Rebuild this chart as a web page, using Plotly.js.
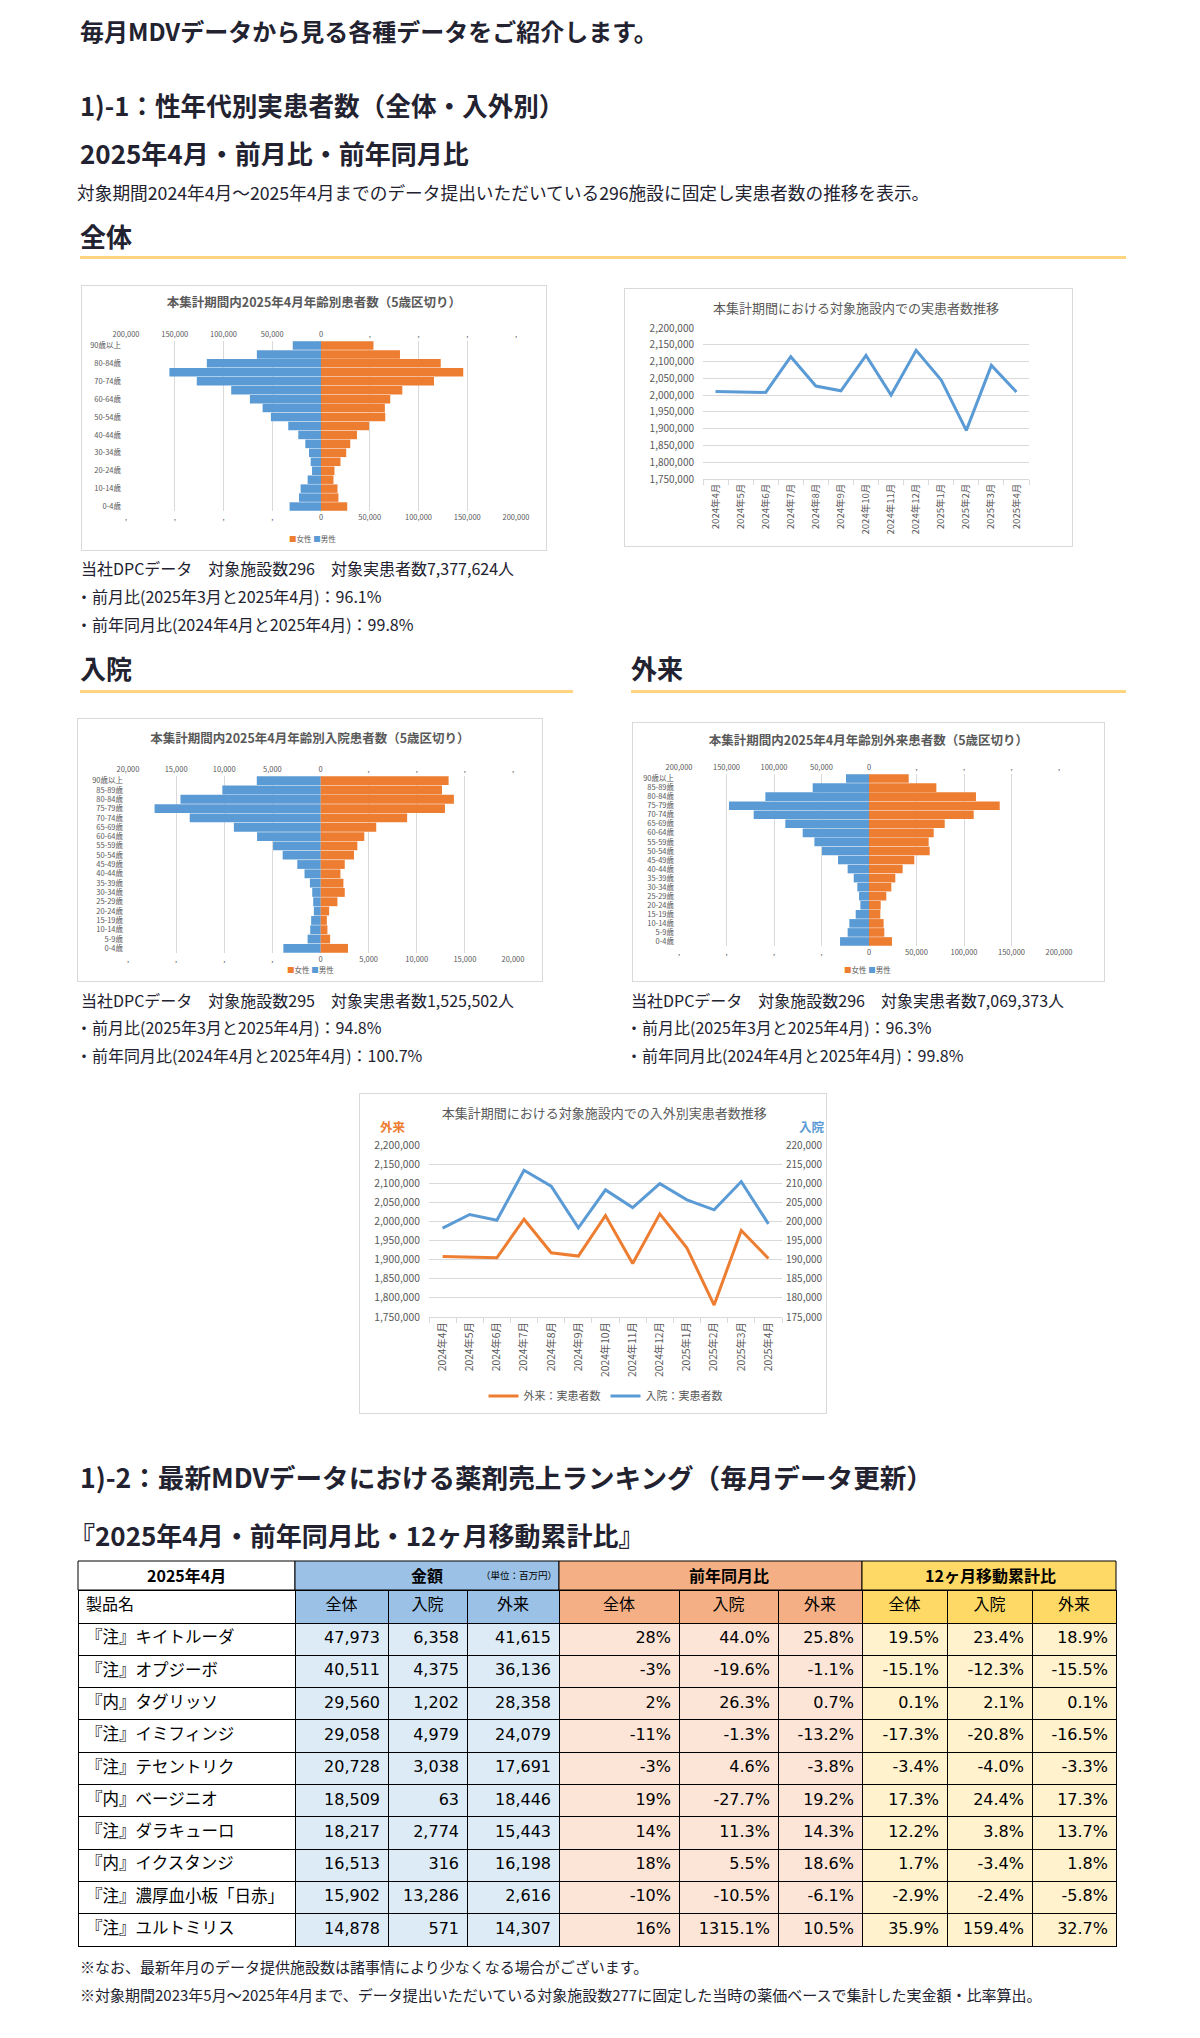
<!DOCTYPE html>
<html><head><meta charset="utf-8">
<script src="https://cdn.plot.ly/plotly-3.0.1.min.js"></script>
<style>
html,body{margin:0;padding:0;background:#fff;}
body{width:1200px;height:2038px;position:relative;overflow:hidden;font-family:"Noto Sans CJK JP","Noto Sans",sans-serif;color:#222230;}
.t{position:absolute;white-space:nowrap;line-height:1;}
.box{position:absolute;border:1px solid #d9d9d9;box-sizing:border-box;background:#fff;overflow:hidden;}
.rule{position:absolute;height:3px;background:#ffd580;}
.plain{position:absolute;}
</style></head><body>
<script>
// ---------------- DATA ----------------
const ages = ['0-4歳','5-9歳','10-14歳','15-19歳','20-24歳','25-29歳','30-34歳','35-39歳','40-44歳','45-49歳','50-54歳','55-59歳','60-64歳','65-69歳','70-74歳','75-79歳','80-84歳','85-89歳','90歳以上'];
const allMale   = [32200,22600,20900,13700,9200,10600,12300,16100,23300,33600,51400,59900,72900,92100,127400,155500,117100,65800,29000];
const allFemale = [26900,17900,16900,12800,13800,20000,25900,30000,36900,49300,65900,65500,71000,83400,115900,145900,122800,81000,53800];
const inMale    = [3860,1340,1070,970,690,760,860,1100,1660,2410,3930,4930,6590,9000,13590,17240,14550,10200,6620];
const inFemale  = [2860,1000,720,660,900,1760,2520,2380,2070,2520,3480,3830,4550,5790,9000,12930,13860,12620,13310];
const outMale   = [30500,22500,20700,14000,9100,10500,12300,16100,22500,32600,49500,57500,69800,88100,121400,147400,109100,59300,24200];
const outFemale = [24200,16100,15400,11900,12300,18200,23500,27700,35400,47700,63900,62800,68100,79700,110200,137600,112600,70900,41800];

const months = ['2024年4月','2024年5月','2024年6月','2024年7月','2024年8月','2024年9月','2024年10月','2024年11月','2024年12月','2025年1月','2025年2月','2025年3月','2025年4月'];
const totalPatients = [2011000,2009000,2008000,2114600,2027000,2013000,2118500,2000300,2133400,2045000,1895000,2088700,2009000];
const outPatients   = [1908400,1906500,1905000,2005900,1918000,1909300,2015500,1890100,2019800,1930200,1781300,1976300,1903100];
const inPatients    = [198240,201810,200330,213380,209210,198330,208250,203640,209900,205640,203030,210430,199370];

const products = ['『注』キイトルーダ','『注』オプジーボ','『内』タグリッソ','『注』イミフィンジ','『注』テセントリク','『内』ベージニオ','『注』ダラキューロ','『内』イクスタンジ','『注』濃厚血小板「日赤」','『注』ユルトミリス'];
const amtTotal = [47973,40511,29560,29058,20728,18509,18217,16513,15902,14878];
const amtIn    = [6358,4375,1202,4979,3038,63,2774,316,13286,571];
const amtOut   = [41615,36136,28358,24079,17691,18446,15443,16198,2616,14307];
const yoyTotal = [28,-3,2,-11,-3,19,14,18,-10,16];
const yoyIn    = [44.0,-19.6,26.3,-1.3,4.6,-27.7,11.3,5.5,-10.5,1315.1];
const yoyOut   = [25.8,-1.1,0.7,-13.2,-3.8,19.2,14.3,18.6,-6.1,10.5];
const matTotal = [19.5,-15.1,0.1,-17.3,-3.4,17.3,12.2,1.7,-2.9,35.9];
const matIn    = [23.4,-12.3,2.1,-20.8,-4.0,24.4,3.8,-3.4,-2.4,159.4];
const matOut   = [18.9,-15.5,0.1,-16.5,-3.3,17.3,13.7,1.8,-5.8,32.7];
const tableHeader = ['製品名','全体','入院','外来','全体','入院','外来','全体','入院','外来'];
const groupHeader = ['2025年4月','金額','前年同月比','12ヶ月移動累計比'];

// ---------------- PAGE TEXT ----------------
const F = '"Noto Sans CJK JP","Noto Sans",sans-serif';
function T(str, x, cy, size, weight, color){
  const d=document.createElement('div'); d.className='t'; d.textContent=str;
  d.style.left=x+'px'; d.style.top=(cy-0.55*size)+'px'; d.style.fontSize=size+'px';
  d.style.fontWeight=weight||400; if(color) d.style.color=color;
  document.body.appendChild(d);
}
function R(x,y,w){const d=document.createElement('div');d.className='rule';d.style.left=x+'px';d.style.top=y+'px';d.style.width=w+'px';document.body.appendChild(d);}
function B(id,x,y,w,h,border){const d=document.createElement('div');d.className=border?'box':'plain';d.id=id;d.style.left=x+'px';d.style.top=y+'px';d.style.width=w+'px';d.style.height=h+'px';document.body.appendChild(d);return d;}

T('毎月MDVデータから見る各種データをご紹介します。',80,32,24,700);
T('1)-1：性年代別実患者数（全体・入外別）',80,106,25.6,700);
T('2025年4月・前月比・前年同月比',80,154,26,700);
T('対象期間2024年4月～2025年4月までのデータ提出いただいている296施設に固定し実患者数の推移を表示。',77,194,17.7,400);
T('全体',80,237,26,700); R(80,256,1046);
T('当社DPCデータ　対象施設数296　対象実患者数7,377,624人',81,569,16);
T('・前月比(2025年3月と2025年4月)：96.1%',76,597,16);
T('・前年同月比(2024年4月と2025年4月)：99.8%',76,625,16);
T('入院',80,669,26,700); R(80,690,493);
T('外来',631,669,26,700); R(631,690,495);
T('当社DPCデータ　対象施設数295　対象実患者数1,525,502人',81,1001,16);
T('・前月比(2025年3月と2025年4月)：94.8%',76,1028,16);
T('・前年同月比(2024年4月と2025年4月)：100.7%',76,1056,16);
T('当社DPCデータ　対象施設数296　対象実患者数7,069,373人',631,1001,16);
T('・前月比(2025年3月と2025年4月)：96.3%',626,1028,16);
T('・前年同月比(2024年4月と2025年4月)：99.8%',626,1056,16);
T('1)-2：最新MDVデータにおける薬剤売上ランキング（毎月データ更新）',80,1479,26.6,700);
T('『2025年4月・前年同月比・12ヶ月移動累計比』',69,1536,26,700);
T('※なお、最新年月のデータ提供施設数は諸事情により少なくなる場合がございます。',80,1967,15);
T('※対象期間2023年5月～2025年4月まで、データ提出いただいている対象施設数277に固定した当時の薬価ベースで集計した実金額・比率算出。',80,1995,15);

// ---------------- CHARTS ----------------
const CFG = {staticPlot:true, displayModeBar:false};
const fmt = v => v.toLocaleString('en-US');
const BLUE='#5b9bd5', ORANGE='#ed7d31', GRAY='#595959', GRID='#d9d9d9';

function pyramid(id, box, title, male, female, max, step, m, tickAges, legX, legY, titleY){
  const el=B(id, box[0], box[1], box[2], box[3], true);
  const W=box[2]-2, H=box[3]-2;
  const vals=[]; for(let v=-max; v<=max; v+=step) vals.push(v);
  const txt = vals.map(v => v<0 ? ',' : fmt(v));
  const traces=[
    {type:'bar', orientation:'h', y:ages, x:female, name:'女性', marker:{color:ORANGE}, xaxis:'x', yaxis:'y', hoverinfo:'skip'},
    {type:'bar', orientation:'h', y:ages, x:male, name:'男性', marker:{color:BLUE}, xaxis:'x2', yaxis:'y', hoverinfo:'skip'}
  ];
  const layout={
    width:W, height:H, margin:Object.assign({autoexpand:false}, m), paper_bgcolor:'#fff', plot_bgcolor:'#fff', showlegend:false,
    font:{family:F, size:7.5, color:GRAY},
    title:{text:'<b>'+title+'</b>', font:{family:F, size:12.5, color:GRAY}, x:0.5, xref:'container', xanchor:'center', y:titleY, yref:'container', yanchor:'middle'},
    barmode:'overlay', bargap:0.05,
    xaxis:{range:[-max,max], tickvals:vals, ticktext:txt, showgrid:true, gridcolor:GRID, gridwidth:1, zeroline:false, showline:false, ticks:'', automargin:false},
    xaxis2:{range:[max,-max], overlaying:'x', side:'top', tickvals:vals, ticktext:txt, showgrid:false, zeroline:false, showline:false, ticks:'', automargin:false, ticklabelstandoff:2},
    yaxis:{type:'category', categoryorder:'array', categoryarray:ages, tickvals:tickAges, range:[-0.5,18.5], showgrid:false, zeroline:false, showline:false, ticks:'', automargin:false, ticklabelstandoff:4},
    annotations:[{xref:'paper', yref:'paper', x:legX, y:legY, xanchor:'center', yanchor:'middle', showarrow:false,
      text:'<span style="color:'+ORANGE+'">■</span>女性 <span style="color:'+BLUE+'">■</span>男性', font:{family:F, size:7.5, color:GRAY}}]
  };
  Plotly.newPlot(el, traces, layout, CFG);
}

const everyOther = ages.filter((a,i)=> i%2===0);
pyramid('c1',[81,285,466,266],'本集計期間内2025年4月年齢別患者数（5歳区切り）', allMale, allFemale, 200000, 50000,
  {l:44,r:30,t:55,b:39}, everyOther, 0.479, -0.159, 0.9356);
pyramid('c3',[77,718,466,264],'本集計期間内2025年4月年齢別入院患者数（5歳区切り）', inMale, inFemale, 20000, 5000,
  {l:50,r:29,t:57,b:28}, ages, 0.473, -0.096, 0.927);
pyramid('c4',[632,722,473,260],'本集計期間内2025年4月年齢別外来患者数（5歳区切り）', outMale, outFemale, 200000, 50000,
  {l:46,r:45,t:51,b:35}, ages, 0.497, -0.134, 0.930);

// line chart - total
(function(){
  const el=B('c2',624,288,449,259,true);
  Plotly.newPlot(el,[{type:'scatter', mode:'lines', x:months, y:totalPatients, line:{color:BLUE, width:3}, hoverinfo:'skip', name:'実患者数'}],{
    width:447, height:257, margin:{l:78,r:43,t:39,b:67,autoexpand:false}, paper_bgcolor:'#fff', plot_bgcolor:'#fff', showlegend:false,
    font:{family:F, size:10, color:GRAY},
    title:{text:'本集計期間における対象施設内での実患者数推移', font:{family:F,size:13,color:GRAY}, x:0.517, xref:'container', xanchor:'center', y:0.926, yref:'container', yanchor:'middle'},
    xaxis:{type:'category', range:[-0.5,12.5], tickangle:-90, tickson:'boundaries', ticks:'outside', ticklen:5, tickcolor:GRID, showline:true, linecolor:GRID, showgrid:false, tickfont:{size:9.5}, automargin:false},
    yaxis:{range:[1750000,2200000], dtick:50000, tickformat:',', showgrid:true, gridcolor:GRID, zeroline:false, showline:false, ticks:'', automargin:false, ticklabelstandoff:8}
  },CFG);
})();

// dual line chart
(function(){
  const el=B('c5',359,1093,468,321,true);
  Plotly.newPlot(el,[
    {type:'scatter', mode:'lines', x:months, y:outPatients, name:'外来：実患者数', line:{color:ORANGE, width:3}, yaxis:'y', hoverinfo:'skip'},
    {type:'scatter', mode:'lines', x:months, y:inPatients, name:'入院：実患者数', line:{color:BLUE, width:3}, yaxis:'y2', hoverinfo:'skip'}
  ],{
    width:466, height:319, margin:{l:69,r:44,t:51,b:96,autoexpand:false}, paper_bgcolor:'#fff', plot_bgcolor:'#fff',
    font:{family:F, size:10, color:GRAY},
    title:{text:'本集計期間における対象施設内での入外別実患者数推移', font:{family:F,size:13,color:GRAY}, x:0.524, xref:'container', xanchor:'center', y:0.94, yref:'container', yanchor:'middle'},
    showlegend:true,
    legend:{orientation:'h', x:0.5, xanchor:'center', y:-0.459, yanchor:'middle', font:{family:F,size:11,color:GRAY}, itemwidth:30, bgcolor:'rgba(0,0,0,0)'},
    xaxis:{type:'category', range:[-0.5,12.5], tickangle:-90, tickson:'boundaries', ticks:'outside', ticklen:5, tickcolor:GRID, showline:true, linecolor:GRID, showgrid:false, tickfont:{size:10.3}, automargin:false},
    yaxis:{range:[1750000,2200000], dtick:50000, tickformat:',', showgrid:true, gridcolor:GRID, zeroline:false, showline:false, ticks:'', automargin:false, ticklabelstandoff:8, tickfont:{size:10.3}},
    yaxis2:{range:[175000,220000], dtick:5000, tickformat:',', overlaying:'y', side:'right', showgrid:false, zeroline:false, showline:false, ticks:'', automargin:false, ticklabelstandoff:3, tickfont:{size:10}},
    annotations:[
      {xref:'paper',yref:'paper',x:-0.102,y:1.105,xanchor:'center',yanchor:'middle',showarrow:false,text:'<b>外来</b>',font:{family:F,size:12.5,color:ORANGE}},
      {xref:'paper',yref:'paper',x:1.085,y:1.105,xanchor:'center',yanchor:'middle',showarrow:false,text:'<b>入院</b>',font:{family:F,size:12.5,color:BLUE}}
    ]
  },CFG);
})();

// ---------------- TABLE ----------------
(function(){
  const colW=[217,93,79,92,120,99,84,85,85,84];
  const TW=colW.reduce((a,b)=>a+b,0);
  const h1=29, h2=33, rowH=32.3, slack=4;
  const H=h1+h2+rowH*products.length+slack;
  const el=B('tbl',77,1560,TW+2,Math.ceil(H)+2,false);
  const blueH='#9bc2e6', blueB='#ddebf7', salH='#f4b084', salB='#fce4d6', yelH='#ffd966', yelB='#fff2cc';
  const hdrFill=['#ffffff',blueH,blueH,blueH,salH,salH,salH,yelH,yelH,yelH];
  const bodyFill=['#ffffff',blueB,blueB,blueB,salB,salB,salB,yelB,yelB,yelB];
  const pct1 = a => a.map(v=>v.toFixed(1)+'%');
  const cellVals=[products, amtTotal.map(fmt), amtIn.map(fmt), amtOut.map(fmt), yoyTotal.map(v=>v.toFixed(0)+'%'),
    pct1(yoyIn), pct1(yoyOut), pct1(matTotal), pct1(matIn), pct1(matOut)];
  const TF='"DejaVu Sans","Noto Sans CJK JP",sans-serif';
  const cum=[0]; colW.forEach(w=>cum.push(cum[cum.length-1]+w));
  const groups=[[0,1],[1,4],[4,7],[7,10]];
  const gFill=['#ffffff',blueH,salH,yelH];
  const yTop=(H-h1)/H;
  const shapes=groups.map((g,i)=>({type:'rect',xref:'paper',yref:'paper',x0:cum[g[0]]/TW,x1:cum[g[1]]/TW,y0:yTop,y1:1,fillcolor:gFill[i],line:{color:'#000',width:1},layer:'above'}));
  const gx=[108.5,349,651,912];
  const ann=groupHeader.map((t,i)=>({xref:'paper',yref:'paper',x:gx[i]/TW,y:1-(h1/2)/H,xanchor:'center',yanchor:'middle',showarrow:false,text:'<b>'+t+'</b>',font:{family:F,size:16,color:'#000'}}));
  ann.push({xref:'paper',yref:'paper',x:441/TW,y:1-(h1/2)/H,xanchor:'center',yanchor:'middle',showarrow:false,text:'（単位：百万円）',font:{family:F,size:9.5,color:'#000'}});
  Plotly.newPlot(el,[{
    type:'table', columnwidth:colW,
    domain:{x:[0,1], y:[0,yTop]},
    header:{values:tableHeader.map(v=>[v]), height:h2, fill:{color:hdrFill}, line:{color:'#000',width:1},
      align:['left','center','center','center','center','center','center','center','center','center'], font:{family:TF,size:16,color:'#000'}},
    cells:{values:cellVals, height:rowH, fill:{color:bodyFill}, line:{color:'#000',width:1},
      align:['left','right','right','right','right','right','right','right','right','right'],
      font:{family:TF,size:[16.5,16,16,16,16,16,16,16,16,16],color:'#000'}}
  }],{width:TW+2, height:Math.ceil(H)+2, margin:{l:1,r:1,t:1,b:1,autoexpand:false}, paper_bgcolor:'rgba(0,0,0,0)', shapes:shapes, annotations:ann, font:{family:F}},CFG);
})();
</script>
</body></html>
